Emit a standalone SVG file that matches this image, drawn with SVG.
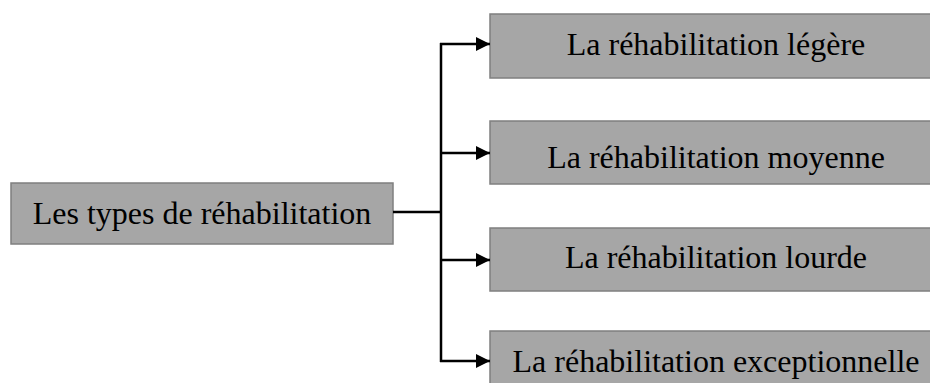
<svg xmlns="http://www.w3.org/2000/svg" width="930" height="383" viewBox="0 0 930 383">
  <style>
    .box { fill: #a6a6a6; stroke: #7f7f7f; stroke-width: 1.5; }
    .lbl { font-family: "Liberation Serif", "Times New Roman", serif; font-size: 32px; fill: #000; text-anchor: middle; }
    .conn { stroke: #000; stroke-width: 2.5; fill: none; }
  </style>
  <defs>
    <marker id="arrow" markerUnits="userSpaceOnUse" markerWidth="15" markerHeight="15" refX="14" refY="7" orient="auto">
      <path d="M0,0 L14,7 L0,14 z" fill="#000"/>
    </marker>
  </defs>
  <rect width="930" height="383" fill="#fff"/>

  <g id="node-root">
    <rect class="box" x="11" y="183" width="382" height="61"/>
    <text class="lbl" x="202" y="224">Les types de réhabilitation</text>
  </g>
  <g id="node-legere">
    <rect class="box" x="490" y="14" width="460" height="64"/>
    <text class="lbl" x="716" y="55">La réhabilitation légère</text>
  </g>
  <g id="node-moyenne">
    <rect class="box" x="490" y="121" width="460" height="63"/>
    <text class="lbl" x="716" y="168">La réhabilitation moyenne</text>
  </g>
  <g id="node-lourde">
    <rect class="box" x="490" y="228" width="460" height="63"/>
    <text class="lbl" x="716" y="268">La réhabilitation lourde</text>
  </g>
  <g id="node-exceptionnelle">
    <rect class="box" x="490" y="331" width="460" height="70"/>
    <text class="lbl" x="716" y="372">La réhabilitation exceptionnelle</text>
  </g>

  <g id="connectors">
    <line class="conn" x1="393" y1="212" x2="441" y2="212"/>
    <line class="conn" x1="441" y1="43" x2="441" y2="362"/>
    <line class="conn" x1="440" y1="44" x2="490" y2="44" marker-end="url(#arrow)"/>
    <line class="conn" x1="440" y1="153" x2="490" y2="153" marker-end="url(#arrow)"/>
    <line class="conn" x1="440" y1="260" x2="490" y2="260" marker-end="url(#arrow)"/>
    <line class="conn" x1="440" y1="361" x2="490" y2="361" marker-end="url(#arrow)"/>
  </g>
</svg>
